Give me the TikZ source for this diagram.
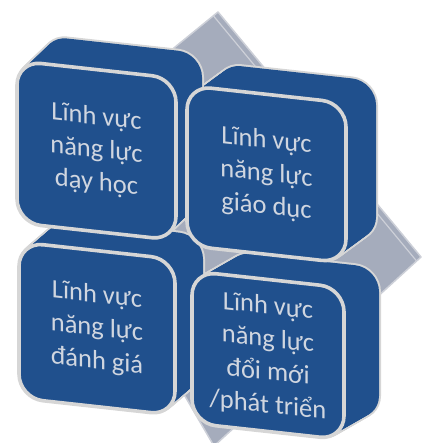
\documentclass[tikz,border=0pt]{standalone}
\usepackage{fontspec}
\setmainfont{Carlito}
\definecolor{blk}{RGB}{32,80,141}
\definecolor{edge}{RGB}{214,214,214}
\definecolor{txt}{RGB}{208,214,224}
\definecolor{dia}{RGB}{165,172,188}
\definecolor{diaedge}{RGB}{205,208,216}
\newcommand\extr[6]{%
  \foreach \s in {1,0.95,...,0}{%
    \begin{scope}[shift={({\s*(#5)},{\s*(#6)})}]
      \path[sh,extline] (#1,#2) -- (#3,#2) -- (#3,#4) -- (#1,#4) -- cycle;
    \end{scope}}%
  \foreach \s in {1,0.95,...,0}{%
    \begin{scope}[shift={({\s*(#5)},{\s*(#6)})}]
      \path[sh,extfill] (#1,#2) -- (#3,#2) -- (#3,#4) -- (#1,#4) -- cycle;
    \end{scope}}}
\newcommand\frnt[4]{%
  \path[sh,front] (#1,#2) -- (#3,#2) -- (#3,#4) -- (#1,#4) -- cycle;}
\begin{document}
\begin{tikzpicture}[x=1pt,y=-1pt,
  sh/.style={cm={1,-0.11,0,1,(0,0)}},
  extline/.style={draw=edge,line width=4pt,rounded corners=24pt,line join=round},
  extfill/.style={fill=blk,rounded corners=24pt},
  front/.style={fill=blk,draw=edge,line width=3.6pt,rounded corners=24pt},
  lbl/.style={text=txt,align=center,font=\fontsize{26.5}{33}\selectfont,transform shape}
]
\useasboundingbox (0,0) rectangle (422,443);
% gray slab behind
\path[fill=dia,draw=diaedge,line width=1.5pt,line join=round]
  (218,12) -- (421,257) -- (214,446) -- (44,154) -- cycle;
\draw[diaedge,line width=1.2pt] (213.4,15.8) -- (416.4,260.8);
% extrusions, far to near
\extr{187}{65}{346}{225}{30}{-22}
\extr{17}{59}{176}{221}{26}{-25}
\extr{192}{250}{344}{402}{35}{-20}
\extr{19}{240}{175}{396}{28}{-24}
% front faces
\frnt{17}{59}{176}{221}
\frnt{187}{65}{346}{225}
\frnt{19}{240}{175}{396}
\frnt{192}{250}{344}{402}
\begin{scope}[sh]
  \node[lbl] (tl) at (96.5,140) {Lĩnh vực\\năng lực\\dạy học};
  \node[lbl] (tr) at (266.5,145) {Lĩnh vực\\năng lực\\giáo dục};
  \node[lbl] (bl) at (97,318) {Lĩnh vực\\năng lực\\đánh giá};
  \node[lbl] (br) at (268,327) {Lĩnh vực\\năng lực\\đổi mới\\/phát triển};
\end{scope}
\end{tikzpicture}
\end{document}
